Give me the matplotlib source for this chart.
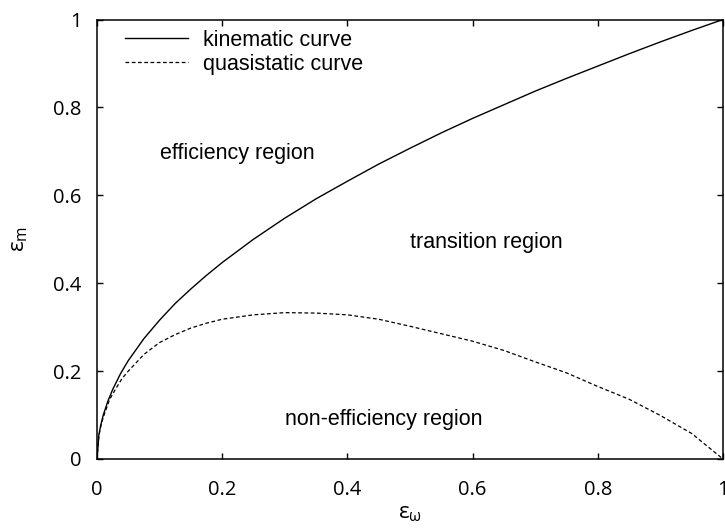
import matplotlib
matplotlib.use('Agg')
import matplotlib.pyplot as plt

# values
eps_w_kin = [0, 0.003, 0.006, 0.01, 0.0175, 0.025, 0.0375, 0.05, 0.075, 0.1, 0.125, 0.15,
             0.175, 0.2, 0.25, 0.3, 0.35, 0.4, 0.45, 0.5, 0.55, 0.6, 0.65, 0.7, 0.75, 0.8,
             0.85, 0.9, 0.95, 1.0]
eps_m_kin = [0, 0.055, 0.077, 0.10, 0.132, 0.158, 0.194, 0.224, 0.274, 0.316, 0.354, 0.387,
             0.418, 0.447, 0.50, 0.548, 0.592, 0.632, 0.671, 0.707, 0.742, 0.775, 0.806,
             0.837, 0.866, 0.894, 0.922, 0.949, 0.975, 1.0]

eps_w_qs = [0, 0.003, 0.006, 0.01, 0.02, 0.03, 0.04, 0.05, 0.075, 0.1, 0.125, 0.15, 0.175,
            0.2, 0.25, 0.3, 0.35, 0.4, 0.45, 0.5, 0.55, 0.6, 0.65, 0.7, 0.75, 0.8, 0.85,
            0.9, 0.95, 1.0]
eps_m_qs = [0, 0.053, 0.074, 0.095, 0.135, 0.16, 0.183, 0.20, 0.238, 0.265, 0.283, 0.298,
            0.309, 0.318, 0.328, 0.333, 0.332, 0.328, 0.318, 0.302, 0.285, 0.268, 0.247,
            0.221, 0.196, 0.165, 0.136, 0.099, 0.058, 0.0]

ticks = [0, 0.2, 0.4, 0.6, 0.8, 1]
tick_labels = ['0', '0.2', '0.4', '0.6', '0.8', '1']

plt.rcParams['mathtext.fontset'] = 'custom'
plt.rcParams['mathtext.rm'] = 'Open Sans'
plt.rcParams['mathtext.it'] = 'Open Sans'

fig = plt.figure(figsize=(7.25, 5.3), dpi=100)
ax = fig.add_axes([0.1338, 0.134, 0.8634, 0.8292])

ax.plot(eps_w_kin, eps_m_kin, color='black', linewidth=1.0, label='kinematic curve')
ax.plot(eps_w_qs, eps_m_qs, color='black', linewidth=0.9, linestyle=(0, (3, 2)),
        label='quasistatic curve')

ax.set_xlim(0, 1)
ax.set_ylim(0, 1)
ax.set_xticks(ticks)
ax.set_xticklabels(tick_labels, family='Open Sans', fontsize=14.5)
ax.set_yticks(ticks)
ax.set_yticklabels(tick_labels, family='Open Sans', fontsize=14.5)
ax.tick_params(direction='in', length=4, width=1.0, top=True, right=True)
ax.tick_params(axis='x', pad=15)
ax.tick_params(axis='y', pad=11)
for sp in ax.spines.values():
    sp.set_linewidth(1.1)

ax.set_xlabel(r'$\varepsilon_{\omega}$', fontsize=16, labelpad=3)
ax.set_ylabel(r'$\varepsilon_{\mathrm{m}}$', fontsize=16, labelpad=17)

txt = dict(family='Liberation Sans', fontsize=15.5, va='center', ha='left')
ax.text(0.1, 0.696, 'efficiency region', **txt)
ax.text(0.5, 0.493, 'transition region', **txt)
ax.text(0.3, 0.09, 'non-efficiency region', **txt)

ax.legend(loc='upper left', bbox_to_anchor=(0.021, 1.011), frameon=False,
          prop={'family': 'Liberation Sans', 'size': 15.5},
          handlelength=2.9, handletextpad=0.7, labelspacing=0.14, borderpad=0.2)

fig.savefig('out.png', dpi=100)
